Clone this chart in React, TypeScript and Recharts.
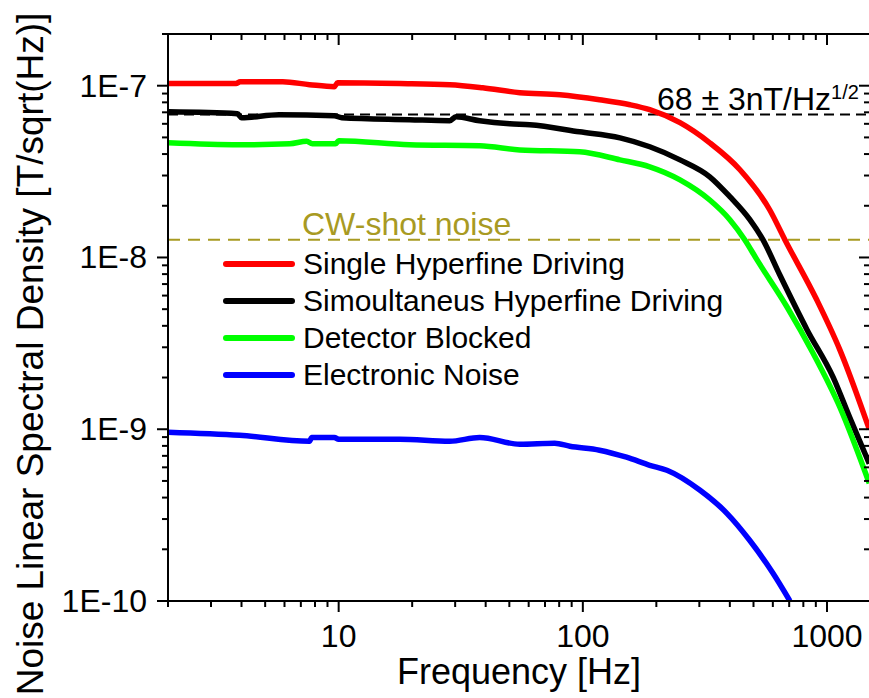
import { LineChart, Line, XAxis, YAxis, ReferenceLine } from "recharts";

// frequency [Hz] and noise density [T/sqrt(Hz)]
const singleFreq = [2, 3.8, 3.95, 5.9, 7.6, 9.6, 9.9, 17.8, 28.5, 38.9, 55.2, 80.5, 117, 156, 188, 250, 331, 440, 583, 673, 910, 1130, 1490];
const singleVals = [1.03e-7, 1.03e-7, 1.055e-7, 1.055e-7, 1.014e-7, 0.987e-7, 1.04e-7, 1.03e-7, 1.014e-7, 0.973e-7, 0.91e-7, 0.886e-7, 0.829e-7, 0.775e-7, 0.725e-7, 0.609e-7, 0.465e-7, 0.324e-7, 0.189e-7, 0.1265e-7, 5.63e-9, 2.89e-9, 1.0e-9];

const simulFreq = [2, 3.85, 4.0, 5.7, 9.6, 10.3, 19.5, 28.5, 30.2, 37.8, 50.2, 60.6, 97, 142, 188, 250, 331, 400, 483, 547, 641, 828, 1059, 1242, 1490];
const simulVals = [7.05e-8, 6.87e-8, 6.51e-8, 6.78e-8, 6.69e-8, 6.51e-8, 6.34e-8, 6.25e-8, 6.59e-8, 6.25e-8, 6.0e-8, 5.92e-8, 5.39e-8, 4.97e-8, 4.41e-8, 3.7e-8, 2.95e-8, 2.26e-8, 1.66e-8, 1.266e-8, 7.9e-9, 3.8e-9, 2.01e-9, 1.16e-9, 6.3e-10];

const blockedFreq = [2, 3.9, 6.3, 7.4, 7.8, 9.7, 10.0, 19.5, 37.8, 55.2, 97, 142, 188, 250, 331, 400, 461, 517, 686, 877, 1130, 1490];
const blockedVals = [4.65e-8, 4.53e-8, 4.59e-8, 4.75e-8, 4.59e-8, 4.59e-8, 4.78e-8, 4.53e-8, 4.47e-8, 4.23e-8, 4.12e-8, 3.7e-8, 3.37e-8, 2.83e-8, 2.16e-8, 1.66e-8, 1.265e-8, 9.68e-9, 5.15e-9, 2.77e-9, 1.34e-9, 4.84e-10];

const elecFreq = [2, 3.93, 7.6, 7.76, 9.6, 10, 17.8, 28.5, 37.8, 55.2, 76.7, 88.5, 117, 151, 188, 221, 302, 389, 483, 601, 705];
const elecVals = [9.61e-10, 9.22e-10, 8.51e-10, 8.96e-10, 8.96e-10, 8.73e-10, 8.73e-10, 8.51e-10, 8.96e-10, 8.18e-10, 8.29e-10, 7.96e-10, 7.55e-10, 6.87e-10, 6.17e-10, 5.77e-10, 4.41e-10, 3.24e-10, 2.25e-10, 1.45e-10, 1.0e-10];

const seriesNames = ["Single Hyperfine Driving", "Simoultaneus Hyperfine Driving", "Detector Blocked", "Electronic Noise"];
const seriesColors = ["#ff0000", "#000000", "#00ff00", "#0000ff"];

const sensitivityLevel = 6.8e-8;
const shotNoiseLevel = 1.27e-8;

const xDomain = [2, 1500];
const yDomain = [1e-10, 2e-7];

const toPoints = (f: number[], v: number[]) => f.map((x, i) => ({ f: x, v: v[i] }));
const seriesData = [
  toPoints(singleFreq, singleVals),
  toPoints(simulFreq, simulVals),
  toPoints(blockedFreq, blockedVals),
  toPoints(elecFreq, elecVals),
];

const xTicks: number[] = [];
for (const d of [1, 10, 100, 1000]) {
  for (let m = 1; m <= 9; m++) {
    const t = m * d;
    if (t >= 2 && t <= 1500) xTicks.push(t);
  }
}
const yTicks: number[] = [];
for (let k = -10; k <= -7; k++) {
  for (let m = 1; m <= 9; m++) {
    const t = m * Math.pow(10, k);
    if (t <= 2.0001e-7) yTicks.push(t);
  }
}

const isMajor = (v: number) => {
  const l = Math.log10(v);
  return Math.abs(l - Math.round(l)) < 1e-6;
};

const FONT = "'Liberation Sans', Arial, sans-serif";

const BottomTick = ({ x, y, payload }: any) => {
  const major = isMajor(payload.value);
  return (
    <g>
      <line x1={x} x2={x} y1={y} y2={y + (major ? 11 : 6)} stroke="#000" strokeWidth={2} />
      {major && (
        <text x={x} y={y + 46} textAnchor="middle" fontSize={32} fontFamily={FONT} fill="#000">
          {Math.round(payload.value)}
        </text>
      )}
    </g>
  );
};

const TopTick = ({ x, y, payload }: any) => {
  const major = isMajor(payload.value);
  return <line x1={x} x2={x} y1={y} y2={y + (major ? 11 : 6)} stroke="#000" strokeWidth={2} />;
};

const LeftTick = ({ x, y, payload }: any) => {
  const major = isMajor(payload.value);
  return (
    <g>
      <line x1={x - (major ? 11 : 6)} x2={x} y1={y} y2={y} stroke="#000" strokeWidth={2} />
      {major && (
        <text x={x - 21} y={y + 11} textAnchor="end" fontSize={32} fontFamily={FONT} fill="#000">
          {"1E" + Math.round(Math.log10(payload.value))}
        </text>
      )}
    </g>
  );
};

const RightTick = ({ x, y, payload }: any) => {
  const major = isMajor(payload.value);
  return <line x1={x - (major ? 11 : 6)} x2={x} y1={y} y2={y} stroke="#000" strokeWidth={2} />;
};

const XTitle = ({ viewBox }: any) => (
  <text x={viewBox.x + viewBox.width / 2} y={684} textAnchor="middle" fontSize={36} fontFamily={FONT} fill="#000">
    Frequency [Hz]
  </text>
);

const YTitle = () => (
  <text transform="translate(43,354) rotate(-90)" textAnchor="middle" fontSize={37} fontFamily={FONT} fill="#000">
    Noise Linear Spectral Density [T/sqrt(Hz)]
  </text>
);

const SensLabel = ({ viewBox }: any) => (
  <text x={657} y={viewBox.y - 4} fontSize={32} fontFamily={FONT} fill="#000">
    68 ± 3nT/Hz
    <tspan dy={-11} fontSize={20}>1/2</tspan>
  </text>
);

const ShotLabel = ({ viewBox }: any) => (
  <text x={viewBox.x + 134} y={viewBox.y - 5} fontSize={32} fontFamily={FONT} fill="#a89a22">
    CW-shot noise
  </text>
);

const App = () => {
  return (
    <div style={{ position: "fixed", left: 0, top: 0, width: 869, height: 698, overflow: "hidden", background: "#fff" }}>
      <LineChart width={880} height={698} margin={{ top: 0, right: 0, bottom: 0, left: 0 }}>
        <XAxis
          dataKey="f"
          type="number"
          scale="log"
          domain={xDomain}
          allowDataOverflow
          ticks={xTicks}
          interval={0}
          height={97}
          tickSize={0}
          tickMargin={0}
          tick={<BottomTick />}
          axisLine={{ stroke: "#000", strokeWidth: 2 }}
          label={<XTitle />}
        />
        <XAxis
          xAxisId="top"
          orientation="top"
          dataKey="f"
          type="number"
          scale="log"
          domain={xDomain}
          allowDataOverflow
          ticks={xTicks}
          interval={0}
          height={34}
          tickSize={0}
          tickMargin={0}
          tick={<TopTick />}
          axisLine={{ stroke: "#000", strokeWidth: 2 }}
        />
        <YAxis
          dataKey="v"
          type="number"
          scale="log"
          domain={yDomain}
          allowDataOverflow
          ticks={yTicks}
          interval={0}
          width={168}
          tickSize={0}
          tickMargin={0}
          tick={<LeftTick />}
          axisLine={{ stroke: "#000", strokeWidth: 2 }}
          label={<YTitle />}
        />
        <YAxis
          yAxisId="right"
          orientation="right"
          dataKey="v"
          type="number"
          scale="log"
          domain={yDomain}
          allowDataOverflow
          ticks={yTicks}
          interval={0}
          width={10}
          tickSize={0}
          tickMargin={0}
          tick={<RightTick />}
          axisLine={{ stroke: "#000", strokeWidth: 2 }}
        />
        <ReferenceLine y={shotNoiseLevel} stroke="#a89a22" strokeWidth={2} strokeDasharray="12 8" label={<ShotLabel />} />
        <ReferenceLine y={sensitivityLevel} stroke="#000" strokeWidth={2} strokeDasharray="10 6" label={<SensLabel />} />
        {seriesData.map((d, i) => (
          <Line
            key={seriesNames[i]}
            data={d}
            dataKey="v"
            name={seriesNames[i]}
            type="monotone"
            stroke={seriesColors[i]}
            strokeWidth={5.5}
            strokeLinejoin="round"
            dot={false}
            activeDot={false}
            isAnimationActive={false}
          />
        ))}
      </LineChart>
      <div style={{ position: "absolute", left: 223, top: 245, fontFamily: FONT, fontSize: 30, color: "#000" }}>
        {seriesNames.map((n, i) => (
          <div key={n} style={{ display: "flex", alignItems: "center", height: 37, whiteSpace: "nowrap" }}>
            <span style={{ display: "inline-block", width: 72, height: 6, borderRadius: 3, background: seriesColors[i], marginRight: 8 }} />
            <span>{n}</span>
          </div>
        ))}
      </div>
    </div>
  );
};

export default App;
